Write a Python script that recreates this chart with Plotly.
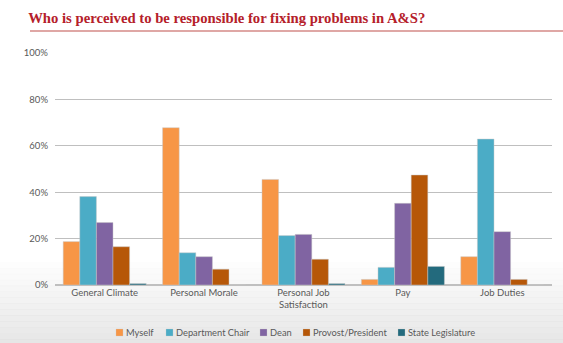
import plotly.graph_objects as go

categories = ["General Climate", "Personal Morale", "Personal Job<br>Satisfaction", "Pay", "Job Duties"]
series_names = ["Myself", "Department Chair", "Dean", "Provost/President", "State Legislature"]
myself = [0.187, 0.678, 0.455, 0.024, 0.122]
dept_chair = [0.381, 0.139, 0.213, 0.076, 0.629]
dean = [0.269, 0.122, 0.218, 0.352, 0.230]
provost = [0.165, 0.068, 0.111, 0.474, 0.024]
state_leg = [0.006, 0.0, 0.006, 0.080, 0.0]
colors = ["#f79646", "#4bacc6", "#8064a2", "#b65708", "#236a7d"]
y_ticks = [0, 0.2, 0.4, 0.6, 0.8, 1.0]
y_tick_labels = ["0%", "20%", "40%", "60%", "80%", "100%"]

W, H = 563, 343
ML, MR, MT, MB = 55, 11, 53, 58
PW, PH = W - ML - MR, H - MT - MB


def px_x(px):
    return (px - ML) / PW


def px_y(py):
    return (H - MB - py) / PH


fig = go.Figure()
for name, vals, col in zip(series_names, [myself, dept_chair, dean, provost, state_leg], colors):
    fig.add_trace(go.Bar(
        x=categories, y=vals, name=name,
        marker=dict(color=col, line=dict(color="rgba(200,200,200,0.8)", width=0.6)),
    ))

# background gradient towards bottom
shapes = []
n = 14
y_top = px_y(262)
y_bot = px_y(H + 2)
for i in range(n):
    y0 = y_top - (y_top - y_bot) * i / n
    y1 = y_top - (y_top - y_bot) * (i + 1) / n
    shapes.append(dict(type="rect", xref="paper", yref="paper", x0=px_x(-2), x1=px_x(W + 2),
                       y0=y1 - 0.002, y1=y0, fillcolor="#dcdcdc", opacity=min(1.0, 0.05 + 0.05 * i),
                       line=dict(width=0), layer="below"))
shapes.append(dict(type="line", xref="paper", yref="paper", x0=px_x(30), x1=px_x(W),
                   y0=px_y(31), y1=px_y(31), line=dict(color="#c0504d", width=1.2)))

# manual legend (squares + real text)
legend_left_px = [116, 166, 260, 303, 398]
annotations = []
for name, col, lx in zip(series_names, colors, legend_left_px):
    shapes.append(dict(type="rect", xref="paper", yref="paper",
                       x0=px_x(lx), x1=px_x(lx + 7), y0=px_y(336), y1=px_y(329),
                       fillcolor=col, line=dict(color="rgba(200,200,200,0.6)", width=0.5)))
    annotations.append(dict(text=name, xref="paper", yref="paper", x=px_x(lx + 7.5), y=px_y(332.5),
                            xanchor="left", yanchor="middle", showarrow=False,
                            font=dict(size=9.3, color="#595959")))

fig.update_layout(
    width=W, height=H,
    margin=dict(l=ML, r=MR, t=MT, b=MB, autoexpand=False),
    paper_bgcolor="white",
    plot_bgcolor="rgba(0,0,0,0)",
    barmode="group",
    bargap=0.165,
    bargroupgap=0,
    title=dict(
        text="<b>Who is perceived to be responsible for fixing problems in A&S?</b>",
        x=0.05, xanchor="left", xref="container",
        y=1 - 17.5 / H, yanchor="middle", yref="container",
        font=dict(family="Liberation Serif, DejaVu Serif, serif", size=14.7, color="#b5202a"),
    ),
    font=dict(family="Lato, Open Sans, sans-serif", color="#595959", size=10),
    xaxis=dict(
        showgrid=False, showline=False, ticks="",
        tickfont=dict(size=9.5, color="#595959"),
    ),
    yaxis=dict(
        range=[0, 1.0], tickvals=y_ticks, ticktext=y_tick_labels,
        showgrid=True, gridcolor="#bfbfbf", gridwidth=1,
        zeroline=True, zerolinecolor="#bfbfbf", zerolinewidth=1.5,
        showline=False, ticks="", ticklabelstandoff=6,
        tickfont=dict(size=9.5, color="#595959"),
    ),
    shapes=shapes,
    annotations=annotations,
    showlegend=False,
)

fig.write_html("out.html")
